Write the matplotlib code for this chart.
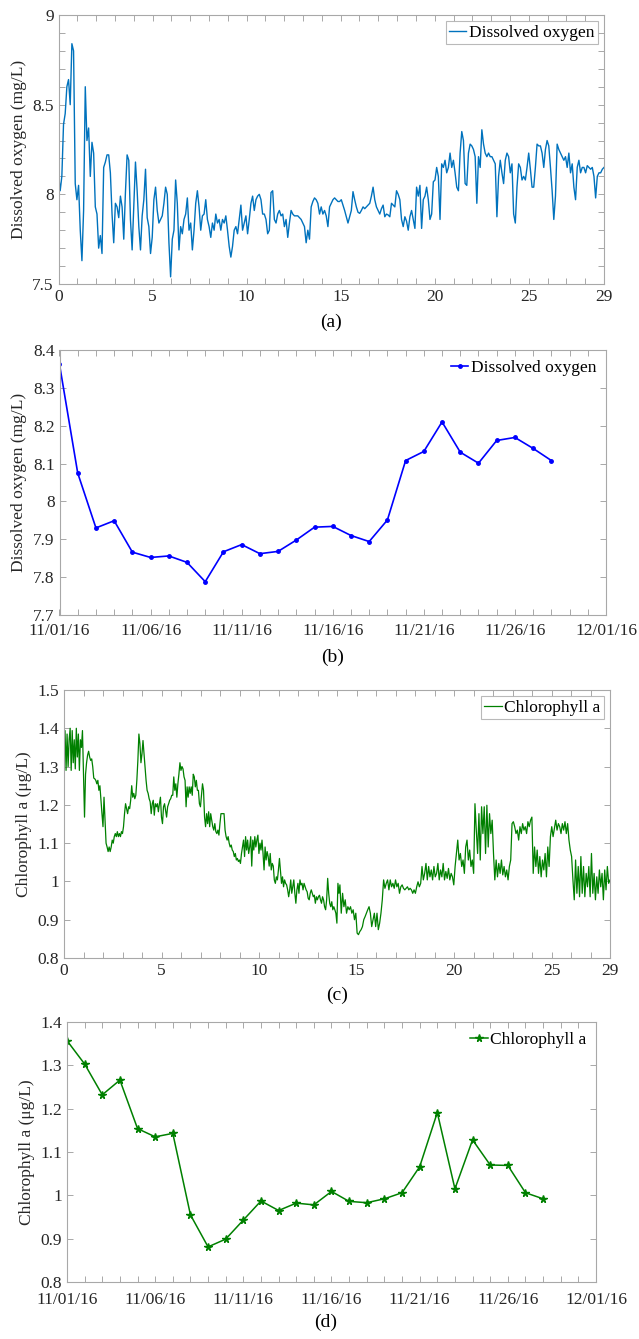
import numpy as np
import pandas as pd
import matplotlib
matplotlib.use('Agg')
import matplotlib.pyplot as plt
import matplotlib.dates as mdates
from matplotlib.ticker import MultipleLocator, FixedLocator, FuncFormatter

plt.rcParams['font.family'] = ['Liberation Serif', 'DejaVu Serif']
plt.rcParams['mathtext.fontset'] = 'stix'

# ---- data -----------------------------------------------------------------
# (a) dissolved oxygen, high-frequency record over 29 days (mg/L)
do_hf = [
    8.12, 8.02, 8.10, 8.39, 8.45, 8.60, 8.64, 8.50, 8.84, 8.80,
    8.06, 7.97, 8.05, 7.80, 7.63, 7.91, 8.60, 8.30, 8.37, 8.10,
    8.29, 8.23, 7.93, 7.89, 7.70, 7.77, 7.67, 8.15, 8.18, 8.22,
    8.22, 8.12, 7.89, 7.73, 7.95, 7.93, 7.87, 7.99, 7.93, 7.75,
    8.01, 8.22, 8.19, 7.86, 7.69, 7.93, 8.18, 8.02, 7.82, 7.69,
    7.88, 7.97, 8.14, 7.87, 7.82, 7.67, 7.76, 7.97, 8.04, 7.91,
    7.84, 7.86, 7.88, 7.95, 8.04, 8.00, 7.73, 7.54, 7.75, 7.80,
    8.08, 7.95, 7.69, 7.82, 7.78, 7.86, 7.89, 7.98, 7.80, 7.84,
    7.69, 7.80, 7.95, 8.02, 7.93, 7.80, 7.88, 7.89, 7.97, 7.86,
    7.82, 7.76, 7.84, 7.80, 7.89, 7.84, 7.86, 7.80, 7.86, 7.84,
    7.88, 7.80, 7.71, 7.65, 7.71, 7.80, 7.82, 7.78, 7.86, 7.94,
    7.80, 7.84, 7.88, 7.78, 7.86, 7.95, 7.99, 7.91, 7.97, 7.99,
    8.00, 7.97, 7.89, 7.89, 7.86, 7.78, 7.80, 8.01, 8.02, 7.86,
    7.84, 7.89, 7.91, 7.88, 7.89, 7.82, 7.86, 7.76, 7.84, 7.91,
    7.89, 7.88, 7.88, 7.88, 7.87, 7.86, 7.84, 7.82, 7.73, 7.80,
    7.75, 7.93, 7.96, 7.98, 7.97, 7.95, 7.89, 7.93, 7.89, 7.91,
    7.88, 7.82, 7.93, 7.95, 7.97, 7.98, 7.97, 7.96, 7.96,
    7.97, 7.94, 7.91, 7.875, 7.84, 7.875, 7.91, 8.015, 7.97, 7.93,
    7.90, 7.894, 7.91, 7.93, 7.92, 7.93, 7.94, 7.95, 7.99, 8.04,
    7.97, 7.93, 7.91, 7.89, 7.92, 7.94, 7.875, 7.89, 7.885, 7.875,
    7.95, 7.94, 7.93, 8.02, 8.00, 7.97, 7.86, 7.82, 7.875, 7.85,
    7.80, 7.875, 7.91, 7.86, 7.81, 8.04, 7.99, 8.05, 7.81, 7.97,
    7.99, 8.04, 7.97, 7.86, 7.89, 8.07, 8.08, 8.15, 8.10, 7.86,
    8.17, 8.15, 8.19, 8.12, 8.15, 8.23, 8.15, 8.19, 8.12, 8.04,
    8.02, 8.23, 8.35, 8.30, 8.06, 8.05, 8.23, 8.28, 8.27, 8.25,
    8.21, 7.95, 8.21, 8.15, 8.36, 8.28, 8.23, 8.21, 8.23, 8.21,
    8.21, 8.19, 8.17, 7.875, 8.10, 8.19, 8.12, 8.06, 8.19, 8.23,
    8.21, 8.12, 8.17, 7.89, 7.84, 8.04, 8.17, 8.15, 8.08, 8.10,
    8.08, 8.15, 8.23, 8.14, 8.04, 8.04, 8.15, 8.28, 8.27, 8.27,
    8.23, 8.15, 8.25, 8.30, 8.27, 8.15, 8.02, 7.86, 7.99, 8.28,
    8.25, 8.23, 8.21, 8.19, 8.21, 8.15, 8.23, 8.12, 8.17, 8.04,
    7.97, 8.15, 8.19, 8.12, 8.15, 8.15, 8.12, 8.16, 8.15, 8.14,
    8.15, 8.10, 7.98, 8.10, 8.12, 8.12, 8.14, 8.15,
]
t_do = np.linspace(0, 29, len(do_hf))

# (b) daily mean dissolved oxygen, 11/01/16 - 11/28/16 (mg/L)
do_daily = [8.362, 8.075, 7.930, 7.949, 7.866, 7.852, 7.856, 7.839, 7.788, 7.867,
            7.886, 7.862, 7.868, 7.898, 7.932, 7.934, 7.910, 7.894, 7.951, 8.108,
            8.132, 8.210, 8.130, 8.101, 8.161, 8.169, 8.140, 8.108]

# (c) chlorophyll a, high-frequency record (ug/L), first and second half
chl_first = [
    1.325, 1.394, 1.29, 1.385, 1.30, 1.37, 1.40, 1.29, 1.394, 1.31,
    1.37, 1.294, 1.40, 1.325, 1.385, 1.29, 1.37, 1.35, 1.394, 1.28,
    1.168, 1.28, 1.31, 1.33, 1.34, 1.325, 1.316, 1.32, 1.30, 1.27,
    1.268, 1.264, 1.255, 1.264, 1.238, 1.25, 1.212, 1.177, 1.143, 1.22,
    1.16, 1.10, 1.09, 1.078, 1.09, 1.078, 1.09, 1.108, 1.10, 1.117,
    1.125, 1.117, 1.13, 1.117, 1.125, 1.117, 1.13, 1.125, 1.143, 1.177,
    1.203, 1.19, 1.177, 1.195, 1.19, 1.212, 1.25, 1.22, 1.23, 1.216,
    1.225, 1.264, 1.316, 1.385, 1.36, 1.31, 1.333, 1.368, 1.333, 1.30,
    1.264, 1.238, 1.23, 1.216, 1.208, 1.177, 1.203, 1.212, 1.173, 1.203,
    1.195, 1.203, 1.182, 1.203, 1.22, 1.168, 1.151, 1.195, 1.203, 1.186,
    1.168, 1.195, 1.203, 1.212, 1.216, 1.225, 1.225, 1.273, 1.238, 1.255,
    1.22, 1.255, 1.28, 1.31, 1.29, 1.30, 1.294, 1.273, 1.264, 1.195,
    1.247, 1.22, 1.247, 1.23, 1.247, 1.225, 1.28, 1.273, 1.247, 1.264,
    1.238, 1.238, 1.203, 1.195, 1.225, 1.255, 1.238, 1.168, 1.143, 1.177,
    1.151, 1.182, 1.143, 1.177, 1.16, 1.143, 1.134, 1.151, 1.13, 1.125,
    1.134, 1.121, 1.151, 1.177, 1.177, 1.177, 1.177, 1.134, 1.117, 1.108,
    1.117, 1.10, 1.09, 1.095, 1.082, 1.078, 1.065, 1.073, 1.056, 1.06,
    1.052, 1.056, 1.047, 1.073, 1.09, 1.108, 1.065, 1.117, 1.082, 1.108,
    1.073, 1.09, 1.117, 1.04, 1.108, 1.082, 1.117, 1.09, 1.108, 1.121,
    1.073, 1.10, 1.082, 1.108, 1.073, 1.03, 1.09, 1.056, 1.078, 1.065,
    1.04, 1.073, 1.03, 1.047, 1.04, 1.004, 0.995, 1.012, 1.004, 1.03,
    1.06, 1.026, 0.995, 1.012, 0.986, 1.004, 0.995, 0.991, 0.978, 0.96,
    0.978, 1.004, 0.969, 0.986, 1.004, 0.969, 0.943, 0.978, 0.995, 0.969,
    1.004, 0.991, 0.995, 0.978, 0.995, 0.986, 0.978, 0.973, 0.956, 0.952,
    0.969, 0.978, 0.969, 0.96, 0.964, 0.943, 0.96, 0.952, 0.96, 0.964,
    0.952, 0.943, 0.96, 0.952, 0.934, 0.926, 0.952, 1.008, 0.969, 0.943,
    0.934, 0.947, 0.926, 0.934, 0.926, 0.917, 0.891, 0.995, 0.969,
]
chl_second = [
    0.991, 0.917, 0.969, 0.934, 0.952, 0.917, 0.934, 0.926, 0.934, 0.917,
    0.926, 0.90, 0.917, 0.865, 0.861, 0.869, 0.874, 0.882, 0.90, 0.908,
    0.917, 0.926, 0.934, 0.917, 0.882, 0.90, 0.917, 0.882, 0.917, 0.874,
    0.891, 0.917, 0.952, 1.004, 0.982, 0.995, 1.004, 0.978, 1.004, 0.986,
    0.995, 0.982, 1.004, 0.986, 0.995, 0.969, 0.986, 0.991, 0.982, 0.978,
    0.982, 0.986, 0.978, 0.982, 0.978, 0.969, 0.978, 0.969, 0.986, 0.999,
    0.986, 0.995, 1.039, 1.004, 1.021, 1.047, 1.004, 1.039, 1.012, 1.03,
    1.004, 1.039, 1.012, 1.021, 1.047, 1.004, 1.03, 1.012, 1.047, 1.004,
    1.026, 1.008, 1.034, 1.004, 1.021, 1.012, 0.991, 1.039, 1.073, 1.108,
    1.056, 1.073, 1.039, 1.056, 1.021, 1.09, 1.108, 1.056, 1.082, 1.039,
    1.056, 1.021, 1.203, 1.134, 1.073, 1.177, 1.056, 1.195, 1.125, 1.195,
    1.073, 1.199, 1.09, 1.177, 1.125, 1.16, 1.073, 1.004, 1.056, 1.012,
    1.047, 1.021, 1.056, 1.017, 1.039, 1.012, 1.03, 1.004, 1.039, 1.056,
    1.151, 1.156, 1.143, 1.125, 1.134, 1.108, 1.143, 1.125, 1.151, 1.134,
    1.143, 1.125, 1.156, 1.143, 1.16, 1.168, 1.021, 1.09, 1.039, 1.082,
    1.021, 1.065, 1.012, 1.056, 1.03, 1.073, 1.012, 1.09, 1.039, 1.117,
    1.143, 1.117, 1.138, 1.16, 1.134, 1.151, 1.143, 1.125, 1.151, 1.134,
    1.156, 1.125, 1.151, 1.108, 1.082, 1.065, 1.004, 0.952, 1.056, 0.969,
    1.039, 0.96, 1.065, 0.969, 1.039, 0.96, 1.021, 0.986, 1.039, 0.96,
    1.073, 0.969, 1.021, 0.952, 1.012, 0.969, 1.03, 0.986, 1.021, 0.952,
    1.03, 0.978, 1.039, 0.995, 1.004,
]
t_chl = np.concatenate([np.linspace(0, 14.1, len(chl_first)),
                        np.linspace(14.15, 28, len(chl_second))])
chl_hf = chl_first + chl_second

# (d) daily mean chlorophyll a (ug/L)
chl_daily = [1.357, 1.303, 1.232, 1.266, 1.154, 1.135, 1.143, 0.955, 0.881, 0.899,
             0.943, 0.987, 0.965, 0.982, 0.978, 1.009, 0.986, 0.983, 0.992, 1.006,
             1.066, 1.191, 1.015, 1.128, 1.070, 1.069, 1.006, 0.992]
days = pd.date_range('2016-11-01', periods=len(do_daily), freq='D')

# ---- figure ---------------------------------------------------------------
W, H = 639, 1339
fig = plt.figure(figsize=(W / 100, H / 100), dpi=100)

frame_col = '#a8a8a8'
text_col = '#262626'
fs = 12.5


def box(left, top, right, bottom):
    # axes rectangle from pixel edges
    return [left / W, 1 - bottom / H, (right - left) / W, (bottom - top) / H]


def style(ax, xpad=3.5):
    for s in ax.spines.values():
        s.set_color(frame_col)
        s.set_linewidth(0.8)
    ax.tick_params(which='both', direction='in', top=True, right=True,
                   color=frame_col, labelcolor=text_col, labelsize=fs, length=4, width=0.7)
    ax.tick_params(axis='x', which='both', pad=xpad)
    ax.yaxis.set_major_formatter(FuncFormatter(lambda v, p: f'{v:g}'))


def legend(ax, frame):
    leg = ax.legend(loc='upper right', fontsize=fs, frameon=frame, fancybox=False,
                    handlelength=1.0, handletextpad=0.15, borderpad=0.2,
                    borderaxespad=0.35)
    if frame:
        leg.get_frame().set_edgecolor(frame_col)
        leg.get_frame().set_linewidth(0.8)


# (a)
ax1 = fig.add_axes(box(58.5, 15, 604, 284))
ax1.plot(t_do, do_hf, color='#0072BD', lw=1.0, label='Dissolved oxygen')
ax1.set_xlim(0, 29)
ax1.set_ylim(7.5, 9)
ax1.xaxis.set_major_locator(FixedLocator([0, 5, 10, 15, 20, 25, 29]))
ax1.xaxis.set_minor_locator(MultipleLocator(1))
ax1.yaxis.set_major_locator(MultipleLocator(0.5))
ax1.yaxis.set_minor_locator(MultipleLocator(0.1))
style(ax1)
ax1.set_ylabel('Dissolved oxygen (mg/L)', fontsize=fs, color=text_col, labelpad=4)
legend(ax1, True)

# (b)
ax2 = fig.add_axes(box(59.5, 350, 606, 615))
ax2.plot(days, do_daily, color='b', lw=1.2, marker='.', ms=5, label='Dissolved oxygen')
ax2.set_xlim(pd.Timestamp('2016-11-01'), pd.Timestamp('2016-12-01'))
ax2.set_ylim(7.7, 8.4)
ax2.xaxis.set_major_locator(mdates.DayLocator(bymonthday=[1, 6, 11, 16, 21, 26]))
ax2.xaxis.set_minor_locator(mdates.DayLocator())
ax2.xaxis.set_major_formatter(mdates.DateFormatter('%m/%d/%y'))
ax2.yaxis.set_major_locator(MultipleLocator(0.1))
style(ax2, xpad=6)
ax2.set_ylabel('Dissolved oxygen (mg/L)', fontsize=fs, color=text_col, labelpad=4)
legend(ax2, False)

# (c)
ax3 = fig.add_axes(box(64, 690, 610, 958))
ax3.plot(t_chl, chl_hf, color='#008000', lw=0.9, label='Chlorophyll a')
ax3.set_xlim(0, 28)
ax3.set_ylim(0.8, 1.5)
ax3.xaxis.set_major_locator(FixedLocator([0, 5, 10, 15, 20, 25, 28]))
ax3.set_xticklabels(['0', '5', '10', '15', '20', '25', '29'])
ax3.xaxis.set_minor_locator(MultipleLocator(1))
ax3.yaxis.set_major_locator(MultipleLocator(0.1))
style(ax3)
ax3.set_ylabel('Chlorophyll a (μg/L)', fontsize=fs, color=text_col, labelpad=4)
legend(ax3, True)

# (d)
ax4 = fig.add_axes(box(67, 1022, 596, 1282))
ax4.plot(days, chl_daily, color='#008000', lw=1.1, marker='*', ms=5.5, label='Chlorophyll a')
ax4.set_xlim(pd.Timestamp('2016-11-01'), pd.Timestamp('2016-12-01'))
ax4.set_ylim(0.8, 1.4)
ax4.xaxis.set_major_locator(mdates.DayLocator(bymonthday=[1, 6, 11, 16, 21, 26]))
ax4.xaxis.set_minor_locator(mdates.DayLocator())
ax4.xaxis.set_major_formatter(mdates.DateFormatter('%m/%d/%y'))
ax4.yaxis.set_major_locator(MultipleLocator(0.1))
style(ax4, xpad=7)
ax4.set_ylabel('Chlorophyll a (μg/L)', fontsize=fs, color=text_col, labelpad=4)
legend(ax4, False)

# panel labels
for lab, x, y in [('(a)', 331, 322), ('(b)', 333, 657), ('(c)', 337, 995), ('(d)', 326, 1322)]:
    fig.text(x / W, 1 - y / H, lab, ha='center', va='center', fontsize=14, color='black')

fig.savefig('out.png', dpi=100)
